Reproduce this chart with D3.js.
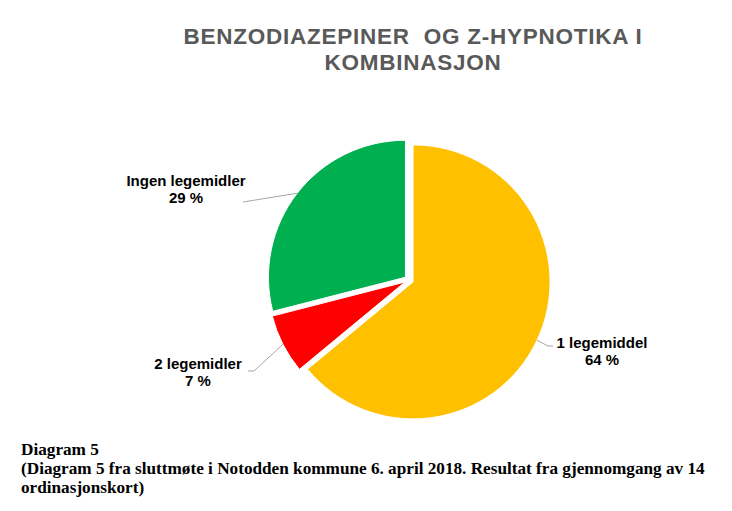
<!DOCTYPE html>
<html>
<head>
<meta charset="utf-8">
<script src="https://cdn.jsdelivr.net/npm/d3@7"></script>
<style>
  body { margin: 0; background: #fff; }
</style>
</head>
<body>
<div id="chart"></div>
<script>
const categories = ["1 legemiddel", "2 legemidler", "Ingen legemidler"];
const values = [64, 7, 29];
const colors = ["#FFC000", "#FF0000", "#00B050"];
const titleLines = ["BENZODIAZEPINER  OG Z-HYPNOTIKA I", "KOMBINASJON"];
const captionLines = [
    "Diagram 5",
    "(Diagram 5 fra sluttmøte i Notodden kommune 6. april 2018. Resultat fra gjennomgang av 14",
    "ordinasjonskort)"
];

const width = 732, height = 511;
const cx = 409, cy = 280, radius = 137, explode = 4.5;

// label layout: text centre, baseline of first line, leader bend points
const labelLayout = [
    { x: 602, y: 348, path: [[548, 346], [553, 346]] },
    { x: 198, y: 369, path: [[254, 371], [248, 371]] },
    { x: 186, y: 186, path: [[243, 202]] }
];

const svg = d3.select("#chart")
    .append("svg")
    .attr("width", width)
    .attr("height", height);

// Title
svg.append("text")
    .attr("text-anchor", "middle")
    .attr("font-family", "Liberation Sans, Arial, sans-serif")
    .attr("font-weight", "bold")
    .attr("font-size", 22.5)
    .attr("letter-spacing", 0.75)
    .attr("fill", "#595959")
    .style("white-space", "pre")
    .selectAll("tspan")
    .data(titleLines)
    .join("tspan")
    .attr("x", 413)
    .attr("y", (d, i) => 44 + i * 26)
    .text(d => d);

const pie = d3.pie().sort(null).value(d => d)(values);
const arc = d3.arc().innerRadius(0).outerRadius(radius);

const g = svg.append("g").attr("transform", `translate(${cx},${cy})`);

pie.forEach((d, i) => {
    const mid = (d.startAngle + d.endAngle) / 2;
    const ox = Math.sin(mid) * explode, oy = -Math.cos(mid) * explode;
    g.append("path")
        .attr("d", arc(d))
        .attr("transform", `translate(${ox},${oy})`)
        .attr("fill", colors[i])
        .attr("stroke", "#fff")
        .attr("stroke-width", 1);

    // leader line from slice edge to label
    const r0 = radius + explode;
    const start = [cx + Math.sin(mid) * r0, cy - Math.cos(mid) * r0];
    const pts = [start].concat(labelLayout[i].path);
    svg.append("path")
        .attr("d", d3.line()(pts))
        .attr("fill", "none")
        .attr("stroke", "#a6a6a6")
        .attr("stroke-width", 1);

    const lab = labelLayout[i];
    const t = svg.append("text")
        .attr("text-anchor", "middle")
        .attr("font-family", "Liberation Sans, Arial, sans-serif")
        .attr("font-weight", "bold")
        .attr("font-size", 15)
        .attr("fill", "#000");
    t.append("tspan").attr("x", lab.x).attr("y", lab.y).text(categories[i]);
    t.append("tspan").attr("x", lab.x).attr("y", lab.y + 17).text(values[i] + " %");
});

// Caption
svg.append("text")
    .attr("font-family", "Liberation Serif, Times New Roman, serif")
    .attr("font-weight", "bold")
    .attr("font-size", 17.2)
    .attr("fill", "#000")
    .selectAll("tspan")
    .data(captionLines)
    .join("tspan")
    .attr("x", 21)
    .attr("y", (d, i) => 455 + i * 19)
    .text(d => d);
</script>
</body>
</html>
